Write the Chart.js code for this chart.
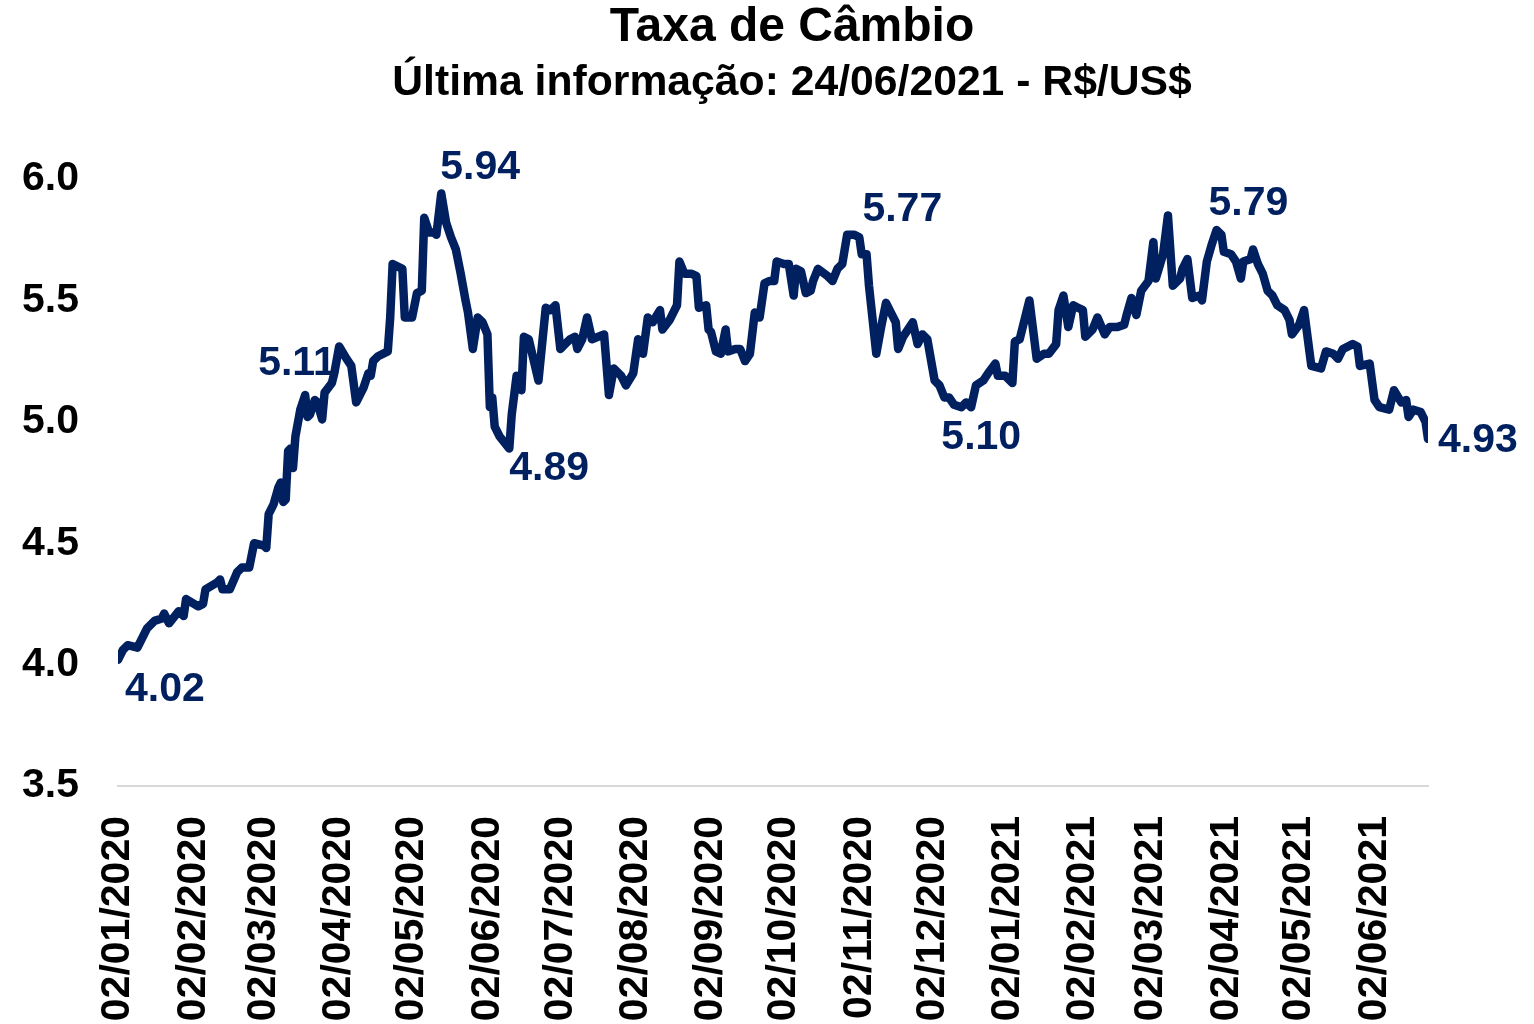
<!DOCTYPE html>
<html lang="pt-BR">
<head>
<meta charset="utf-8">
<title>Taxa de Câmbio</title>
<script src="https://cdn.jsdelivr.net/npm/chart.js@4.4.1/dist/chart.umd.min.js"></script>
<style>
html, body { margin: 0; padding: 0; background: #fff; }
#grafico { display: block; }
</style>
</head>
<body>
<canvas id="grafico" width="1534" height="1024"></canvas>
<script>
// datas e cotações (R$/US$)
var datas = [
	'02/01/2020', '04/01/2020', '06/01/2020', '10/01/2020', '14/01/2020', '17/01/2020', '20/01/2020', '21/01/2020',
	'23/01/2020', '27/01/2020', '29/01/2020', '30/01/2020', '04/02/2020', '06/02/2020', '07/02/2020', '12/02/2020',
	'13/02/2020', '14/02/2020', '17/02/2020', '20/02/2020', '22/02/2020', '25/02/2020', '27/02/2020', '02/03/2020',
	'03/03/2020', '04/03/2020', '06/03/2020', '08/03/2020', '09/03/2020', '10/03/2020', '11/03/2020', '12/03/2020',
	'13/03/2020', '14/03/2020', '15/03/2020', '17/03/2020', '19/03/2020', '20/03/2020', '21/03/2020', '23/03/2020',
	'24/03/2020', '26/03/2020', '27/03/2020', '30/03/2020', '31/03/2020', '02/04/2020', '05/04/2020', '07/04/2020',
	'09/04/2020', '12/04/2020', '14/04/2020', '15/04/2020', '16/04/2020', '18/04/2020', '22/04/2020', '23/04/2020',
	'24/04/2020', '28/04/2020', '29/04/2020', '02/05/2020', '04/05/2020', '06/05/2020', '07/05/2020', '09/05/2020',
	'11/05/2020', '12/05/2020', '14/05/2020', '16/05/2020', '18/05/2020', '20/05/2020', '22/05/2020', '24/05/2020',
	'25/05/2020', '27/05/2020', '29/05/2020', '31/05/2020', '02/06/2020', '03/06/2020', '04/06/2020', '05/06/2020',
	'07/06/2020', '11/06/2020', '12/06/2020', '14/06/2020', '16/06/2020', '17/06/2020', '19/06/2020', '23/06/2020',
	'26/06/2020', '28/06/2020', '30/06/2020', '02/07/2020', '04/07/2020', '06/07/2020', '08/07/2020', '09/07/2020',
	'11/07/2020', '13/07/2020', '15/07/2020', '20/07/2020', '22/07/2020', '24/07/2020', '27/07/2020', '29/07/2020',
	'01/08/2020', '03/08/2020', '05/08/2020', '07/08/2020', '09/08/2020', '12/08/2020', '13/08/2020', '16/08/2020',
	'19/08/2020', '20/08/2020', '22/08/2020', '25/08/2020', '27/08/2020', '28/08/2020', '31/08/2020', '01/09/2020',
	'02/09/2020', '04/09/2020', '06/09/2020', '08/09/2020', '09/09/2020', '12/09/2020', '14/09/2020', '16/09/2020',
	'18/09/2020', '20/09/2020', '22/09/2020', '24/09/2020', '26/09/2020', '28/09/2020', '29/09/2020', '02/10/2020',
	'04/10/2020', '06/10/2020', '07/10/2020', '09/10/2020', '11/10/2020', '13/10/2020', '14/10/2020', '16/10/2020',
	'20/10/2020', '22/10/2020', '24/10/2020', '26/10/2020', '28/10/2020', '31/10/2020', '02/11/2020', '03/11/2020',
	'05/11/2020', '06/11/2020', '09/11/2020', '11/11/2020', '13/11/2020', '15/11/2020', '17/11/2020', '18/11/2020',
	'20/11/2020', '22/11/2020', '24/11/2020', '26/11/2020', '28/11/2020', '30/11/2020', '03/12/2020', '05/12/2020',
	'07/12/2020', '09/12/2020', '11/12/2020', '14/12/2020', '16/12/2020', '18/12/2020', '20/12/2020', '23/12/2020',
	'25/12/2020', '28/12/2020', '29/12/2020', '01/01/2021', '04/01/2021', '05/01/2021', '07/01/2021', '09/01/2021',
	'11/01/2021', '12/01/2021', '14/01/2021', '17/01/2021', '19/01/2021', '22/01/2021', '23/01/2021', '25/01/2021',
	'27/01/2021', '29/01/2021', '31/01/2021', '02/02/2021', '03/02/2021', '06/02/2021', '08/02/2021', '11/02/2021',
	'13/02/2021', '16/02/2021', '19/02/2021', '20/02/2021', '22/02/2021', '24/02/2021', '26/02/2021', '01/03/2021',
	'03/03/2021', '04/03/2021', '07/03/2021', '09/03/2021', '11/03/2021', '14/03/2021', '15/03/2021', '17/03/2021',
	'19/03/2021', '22/03/2021', '23/03/2021', '25/03/2021', '27/03/2021', '29/03/2021', '31/03/2021', '01/04/2021',
	'04/04/2021', '06/04/2021', '08/04/2021', '09/04/2021', '12/04/2021', '13/04/2021', '15/04/2021', '17/04/2021',
	'19/04/2021', '21/04/2021', '23/04/2021', '26/04/2021', '28/04/2021', '29/04/2021', '02/05/2021', '04/05/2021',
	'07/05/2021', '11/05/2021', '13/05/2021', '16/05/2021', '18/05/2021', '20/05/2021', '24/05/2021', '26/05/2021',
	'27/05/2021', '31/05/2021', '02/06/2021', '04/06/2021', '08/06/2021', '10/06/2021', '13/06/2021', '15/06/2021',
	'16/06/2021', '18/06/2021', '21/06/2021', '23/06/2021', '24/06/2021'
];

var cambio = [
	4.02, 4.06, 4.08, 4.07, 4.15, 4.18, 4.19, 4.21,
	4.17, 4.22, 4.20, 4.27, 4.24, 4.25, 4.31, 4.34,
	4.35, 4.31, 4.31, 4.38, 4.40, 4.40, 4.50, 4.49,
	4.48, 4.62, 4.66, 4.73, 4.75, 4.67, 4.68, 4.88,
	4.89, 4.81, 4.94, 5.05, 5.11, 5.02, 5.03, 5.09,
	5.08, 5.01, 5.12, 5.16, 5.20, 5.31, 5.26, 5.23,
	5.08, 5.14, 5.20, 5.19, 5.25, 5.27, 5.29, 5.43,
	5.65, 5.63, 5.43, 5.43, 5.53, 5.54, 5.84, 5.78,
	5.78, 5.77, 5.94, 5.82, 5.76, 5.71, 5.61, 5.50,
	5.45, 5.30, 5.43, 5.41, 5.36, 5.06, 5.10, 4.98,
	4.94, 4.89, 5.03, 5.19, 5.13, 5.35, 5.34, 5.17,
	5.47, 5.46, 5.48, 5.30, 5.32, 5.34, 5.35, 5.30,
	5.34, 5.43, 5.34, 5.36, 5.11, 5.22, 5.19, 5.15,
	5.20, 5.34, 5.28, 5.43, 5.41, 5.46, 5.38, 5.42,
	5.48, 5.66, 5.61, 5.61, 5.60, 5.47, 5.48, 5.38,
	5.37, 5.29, 5.28, 5.38, 5.29, 5.30, 5.30, 5.25,
	5.28, 5.45, 5.43, 5.57, 5.58, 5.58, 5.66, 5.65,
	5.65, 5.52, 5.63, 5.62, 5.53, 5.54, 5.58, 5.63,
	5.60, 5.58, 5.63, 5.65, 5.77, 5.77, 5.76, 5.69,
	5.69, 5.56, 5.28, 5.39, 5.49, 5.45, 5.41, 5.30,
	5.35, 5.38, 5.41, 5.32, 5.36, 5.34, 5.17, 5.15,
	5.10, 5.10, 5.07, 5.06, 5.08, 5.06, 5.15, 5.17,
	5.20, 5.24, 5.19, 5.19, 5.16, 5.33, 5.34, 5.42,
	5.50, 5.42, 5.26, 5.28, 5.28, 5.32, 5.46, 5.52,
	5.39, 5.48, 5.47, 5.46, 5.35, 5.38, 5.43, 5.36,
	5.39, 5.39, 5.40, 5.44, 5.51, 5.44, 5.54, 5.58,
	5.74, 5.59, 5.69, 5.85, 5.56, 5.59, 5.63, 5.67,
	5.51, 5.52, 5.50, 5.66, 5.73, 5.79, 5.77, 5.70,
	5.69, 5.66, 5.59, 5.66, 5.67, 5.71, 5.65, 5.61,
	5.54, 5.52, 5.48, 5.46, 5.42, 5.36, 5.40, 5.46,
	5.23, 5.22, 5.29, 5.28, 5.26, 5.30, 5.32, 5.31,
	5.23, 5.24, 5.09, 5.06, 5.05, 5.13, 5.08, 5.09,
	5.02, 5.05, 5.04, 5.00, 4.93
];

var rotulosEixoX = [
	'02/01/2020', '02/02/2020', '02/03/2020', '02/04/2020', '02/05/2020', '02/06/2020',
	'02/07/2020', '02/08/2020', '02/09/2020', '02/10/2020', '02/11/2020', '02/12/2020',
	'02/01/2021', '02/02/2021', '02/03/2021', '02/04/2021', '02/05/2021', '02/06/2021'
];

var valoresEixoY = [3.5, 4.0, 4.5, 5.0, 5.5, 6.0];

// pontos que recebem rótulo com o valor
var datasRotuladas = ['02/01/2020', '19/03/2020', '14/05/2020', '11/06/2020',
	'31/10/2020', '07/12/2020', '29/03/2021', '24/06/2021'];

var titulo = 'Taxa de Câmbio';
var subtitulo = 'Última informação: 24/06/2021 - R$/US$';

var AZUL = '#002060';
var FONTE = '"Liberation Sans", Arial, Helvetica, sans-serif';

function paraData(txt) {
	var p = txt.split('/');
	return Date.UTC(+p[2], +p[1] - 1, +p[0]);
}

var inicio = paraData(datas[0]);

function diasDesdeInicio(txt) {
	return Math.round((paraData(txt) - inicio) / 86400000);
}

var pontos = [];
for (var i = 0; i < datas.length; i++) {
	pontos.push({x: diasDesdeInicio(datas[i]), y: cambio[i]});
}

// rótulos de valor nos pontos marcados (desenhados por baixo da linha)
var rotulosPlugin = {
	id: 'rotulos',
	beforeDatasetsDraw: function(chart, args, opts) {
		var ctx = chart.ctx,
			meta = chart.getDatasetMeta(0);
		ctx.save();
		ctx.font = 'bold 41px ' + FONTE;
		ctx.fillStyle = AZUL;
		ctx.textAlign = 'left';
		ctx.textBaseline = 'middle';
		for (var k = 0; k < datasRotuladas.length; k++) {
			var idx = datas.indexOf(datasRotuladas[k]);
			var pt = meta.data[idx];
			var desl = opts.deslocamentos[k];
			ctx.fillText(cambio[idx].toFixed(2), pt.x + desl[0], pt.y + desl[1]);
		}
		ctx.restore();
	}
};

// título e subtítulo centrados na posição do original
var tituloPlugin = {
	id: 'titulo',
	afterDraw: function(chart, args, opts) {
		var ctx = chart.ctx;
		ctx.save();
		ctx.fillStyle = '#000';
		ctx.textAlign = 'center';
		ctx.textBaseline = 'middle';
		ctx.font = 'bold 48px ' + FONTE;
		ctx.fillText(titulo, opts.centroX, 28);
		ctx.font = 'bold 42.7px ' + FONTE;
		ctx.fillText(subtitulo, opts.centroX, 83);
		ctx.restore();
	}
};

new Chart(document.getElementById('grafico'), {
	type: 'line',
	data: {
		datasets: [{
			label: 'R$/US$',
			data: pontos,
			borderColor: AZUL,
			backgroundColor: AZUL,
			borderWidth: 8.5,
			borderJoinStyle: 'round',
			borderCapStyle: 'round',
			pointRadius: 0,
			tension: 0
		}]
	},
	options: {
		responsive: false,
		animation: false,
		devicePixelRatio: 1,
		layout: {padding: {left: 22, right: 106, top: 179, bottom: 0}},
		plugins: {
			legend: {display: false},
			tooltip: {enabled: false},
			title: {display: false},
			titulo: {centroX: 792},
			rotulos: {
				deslocamentos: [[7, 30], [-47, -31], [-1, -26], [0, 20], [8, -25], [-3, 40], [-8, -26], [10, 2]]
			}
		},
		scales: {
			x: {
				type: 'linear',
				min: 0,
				max: diasDesdeInicio(datas[datas.length - 1]),
				grid: {display: false, drawTicks: false},
				border: {display: true, color: '#d9d9d9', width: 2},
				afterBuildTicks: function(scale) {
					scale.ticks = rotulosEixoX.map(function(r) {
						return {value: diasDesdeInicio(r)};
					});
				},
				afterFit: function(scale) {
					scale.paddingLeft = 0;
					scale.paddingRight = 0;
					scale.height = 238;
				},
				ticks: {
					autoSkip: false,
					maxRotation: 90,
					minRotation: 90,
					padding: 30,
					color: '#000',
					font: {family: FONTE, size: 41, weight: 'bold'},
					callback: function(v) {
						for (var j = 0; j < rotulosEixoX.length; j++) {
							if (diasDesdeInicio(rotulosEixoX[j]) === v) return rotulosEixoX[j];
						}
						return '';
					}
				}
			},
			y: {
				min: valoresEixoY[0],
				max: valoresEixoY[valoresEixoY.length - 1],
				grid: {display: false, drawTicks: false},
				border: {display: false},
				afterBuildTicks: function(scale) {
					scale.ticks = valoresEixoY.map(function(v) { return {value: v}; });
				},
				afterFit: function(scale) {
					scale.width = 96;
					scale.paddingTop = 0;
					scale.paddingBottom = 0;
				},
				ticks: {
					padding: 39,
					color: '#000',
					font: {family: FONTE, size: 41, weight: 'bold'},
					callback: function(v) { return v.toFixed(1); }
				}
			}
		}
	},
	plugins: [rotulosPlugin, tituloPlugin]
});
</script>
</body>
</html>
